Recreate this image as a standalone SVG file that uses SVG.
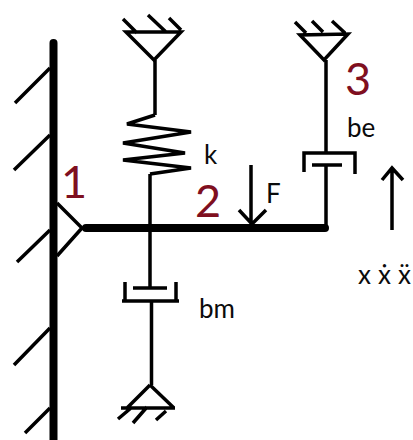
<svg xmlns="http://www.w3.org/2000/svg" width="413" height="440" viewBox="0 0 413 440">
<style>
.l{fill:none;stroke:#000;stroke-width:3.500;stroke-linejoin:miter}
.t{font-family:Lato,"Open Sans",sans-serif;font-size:26px;fill:#0b0b0b}
.n{font-family:Lato,"Open Sans",sans-serif;font-size:45px;fill:#7f0f20}
</style>
<rect width="413" height="440" fill="#fff"/>
<g id="connectors">
<path class="l" d="M155 60V115M150 174V287M151.500 301V385M326 60V153M326 165V228"/>
<path class="l" stroke-linejoin="round" d="M155 115L127 124L191 132L123 143L185 153L123 160L191 168L150 174"/>
<path class="l" d="M251 165V224M239 210L252 224L266 210"/>
<path class="l" d="M392 230V168M382 180L392 168L403 180"/>
</g>
<g id="wall">
<path d="M53.500 43V440" fill="none" stroke="#000" stroke-width="8" stroke-linecap="round"/>
<path class="l" d="M50 68L15 103M50 135L14 170M50 230L17 262M50 328L14 365M50 408L25 433"/>
</g>
<g id="pin"><path class="l" d="M57 203L82 228L57 256"/></g>
<g id="beam"><path d="M86 228H325" fill="none" stroke="#000" stroke-width="8" stroke-linecap="round"/></g>
<g id="ground-top">
<path class="l" d="M126 32L154 60L181 32ZM123 19L137 33M148 15L166 32M169 18L181 30"/>
</g>
<g id="ground-right">
<path class="l" d="M300 35L324 60L348 34ZM295 22L306 33M312 21L323 32M332 21L345 33"/>
</g>
<g id="ground-bottom">
<path class="l" d="M150 385L127 408M150 385L174 408M121 408H175M166 411L156 420M147 407L133 423M131 408L118 419"/>
</g>
<g id="damper-m">
<path class="l" d="M125 282V301M122 301H179M176 282V301M133 288H167"/>
</g>
<g id="damper-e">
<path class="l" d="M304 172V153H355V174M312 165H342"/>
</g>
<g id="labels">
<text class="n" x="61" y="198">1</text>
<text class="n" x="195" y="217">2</text>
<text class="n" x="345" y="95">3</text>
<text class="t" x="204" y="164">k</text>
<text class="t" x="266" y="203">F</text>
<text class="t" x="347" y="137">be</text>
<text class="t" x="199" y="318">bm</text>
<text class="t" x="358" y="284">x</text>
<text class="t" x="378" y="284">ẋ</text>
<text class="t" x="398" y="284">ẍ</text>
</g>
</svg>
